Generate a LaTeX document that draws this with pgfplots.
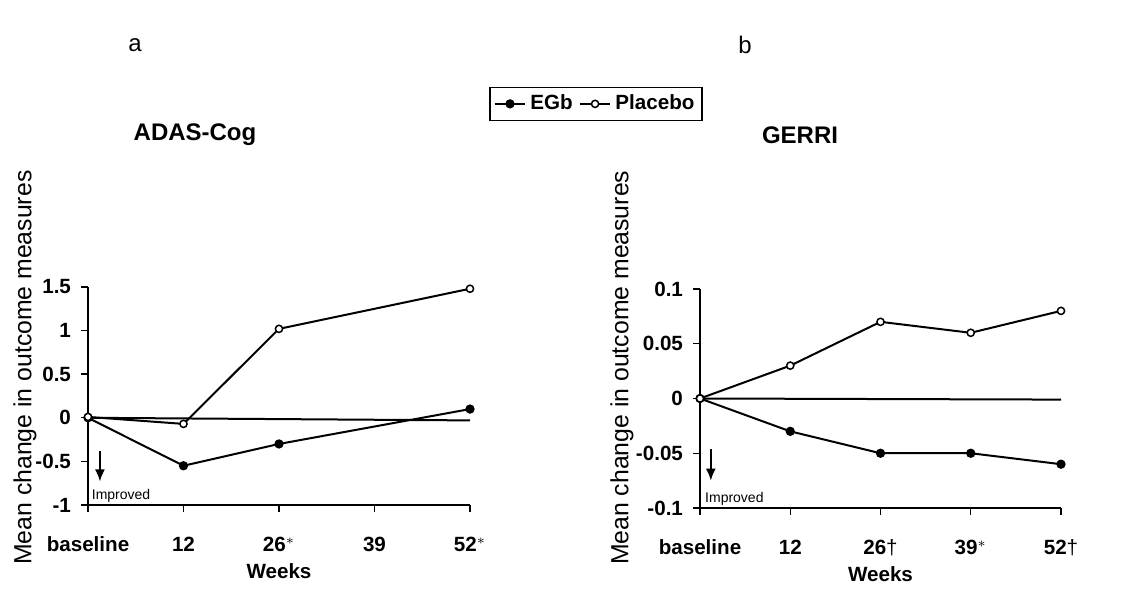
\documentclass[border=0pt]{standalone}
\usepackage{pgfplots}
\pgfplotsset{compat=1.18}
\usepackage{fontspec}
\setmainfont{Liberation Sans}
\usetikzlibrary{arrows.meta}

\pgfplotsset{
  panel/.style={
    scale only axis,
    anchor=south west,
    axis x line=bottom,
    axis y line=left,
    axis line style={-, line width=0.7pt},
    enlargelimits=false,
    clip=false,
    xmin=0, xmax=4,
    xtick={0,1,2,3,4},
    tick align=outside,
    major tick length=3.5pt,
    every tick/.style={black, line width=0.7pt},
    tick label style={font=\fontsize{10.3}{12}\selectfont\bfseries},
    xticklabel style={anchor=base, yshift=-20pt},
    yticklabel style={anchor=east, xshift=-1.5pt},
    every axis y label/.style={rotate=90, anchor=center, font=\fontsize{12.4}{14}\selectfont},
    every axis x label/.style={at={(axis description cs:0.5,0)}, anchor=base, yshift=-37pt,
      font=\fontsize{10.3}{12}\selectfont\bfseries},
  },
  egb/.style={black, line width=1pt, mark=*, mark size=1.8pt, mark options={fill=black}},
  plac/.style={black, line width=1pt, mark=*, mark size=1.8pt, mark options={fill=white, line width=0.75pt}},
  zero/.style={black, line width=1pt, forget plot},
}

\begin{document}
\begin{tikzpicture}
\useasboundingbox (0pt,0pt) rectangle (563pt,299pt);

% panel a: ADAS-Cog
\begin{axis}[panel,
  at={(44pt,46.5pt)}, width=191pt, height=109pt,
  ymin=-1, ymax=1.5,
  ytick={-1,-0.5,0,0.5,1,1.5},
  yticklabels={-1,-0.5,0,0.5,1,1.5},
  xticklabels={baseline,12,26$^{*}$,39,52$^{*}$},
  xlabel={Weeks},
  ylabel={Mean change in outcome measures},
  ylabel style={at={(axis description cs:-0.165,0.63)}},
  legend columns=2,
  legend style={at={(axis description cs:1.33,1.84)}, anchor=center,
    draw=black, line width=0.7pt, inner sep=1.8pt,
    font=\fontsize{10.3}{12}\selectfont\bfseries,
    /tikz/every even column/.append style={column sep=1pt}},
  legend image code/.code={\draw[mark repeat=2,mark phase=2,#1] plot coordinates {(0cm,0cm) (0.27cm,0cm) (0.54cm,0cm)};},
]
\addplot[zero] coordinates {(0,0) (4,-0.03)};
\addplot[egb] coordinates {(0,0) (1,-0.55) (2,-0.30) (4,0.10)};
\addplot[plac] coordinates {(0,0.01) (1,-0.07) (2,1.02) (4,1.48)};
\addlegendentry{EGb}
\addlegendentry{Placebo}
\draw[line width=0.9pt, -{Latex[length=6pt,width=5pt]}] (axis cs:0.125,-0.38) -- (axis cs:0.125,-0.73);
\node[anchor=south west, inner sep=0.6pt, font=\fontsize{7}{8}\selectfont] at (axis description cs:0.006,0.005) {Improved};
\end{axis}

% panel b: GERRI
\begin{axis}[panel,
  at={(350pt,45pt)}, width=180.5pt, height=109.5pt,
  ymin=-0.1, ymax=0.1,
  ytick={-0.1,-0.05,0,0.05,0.1},
  yticklabels={-0.1,-0.05,0,0.05,0.1},
  xticklabels={baseline,12,26{\mdseries†},39$^{*}$,52{\mdseries†}},
  xlabel={Weeks},
  ylabel={Mean change in outcome measures},
  ylabel style={at={(axis description cs:-0.216,0.64)}},
]
\addplot[zero] coordinates {(0,0) (4,-0.001)};
\addplot[egb] coordinates {(0,0) (1,-0.03) (2,-0.05) (3,-0.05) (4,-0.06)};
\addplot[plac] coordinates {(0,0) (1,0.03) (2,0.07) (3,0.06) (4,0.08)};
\draw[line width=0.9pt, -{Latex[length=6pt,width=5pt]}] (axis cs:0.12,-0.046) -- (axis cs:0.12,-0.075);
\node[anchor=south west, inner sep=0.6pt, font=\fontsize{7}{8}\selectfont] at (axis description cs:0.01,0.005) {Improved};
\end{axis}

% titles and panel letters
\node[font=\fontsize{12}{14}\selectfont\bfseries] at (97.5pt,231.5pt) {ADAS-Cog};
\node[font=\fontsize{12}{14}\selectfont\bfseries] at (400pt,231.5pt) {GERRI};
\node[font=\fontsize{12}{14}\selectfont] at (67.5pt,276.5pt) {a};
\node[font=\fontsize{12}{14}\selectfont] at (372.5pt,276.5pt) {b};
\end{tikzpicture}
\end{document}
